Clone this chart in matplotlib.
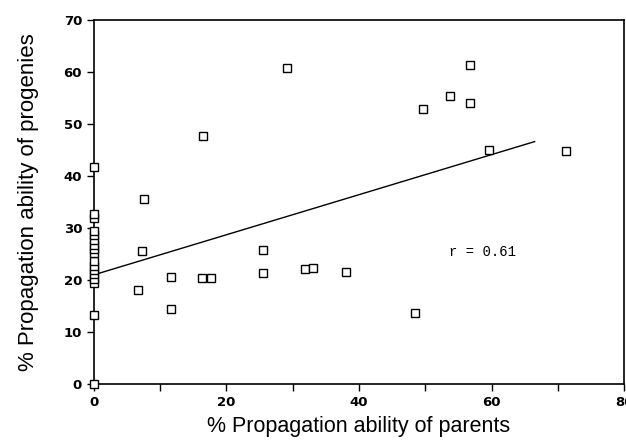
import numpy as np
import matplotlib.pyplot as plt

# Parents (x) vs progenies (y), % propagation ability
parents = [0, 0, 0, 0, 0, 0, 0, 0, 0, 0, 0, 0, 0, 0, 0, 0, 0,
           6.6, 7.3, 7.6, 11.6, 11.6, 16.3, 16.4, 17.7, 25.5, 25.5,
           29.2, 31.9, 33.1, 38.0, 48.4, 49.6, 53.7, 56.7, 56.7, 59.6, 71.3]
progenies = [0, 13.3, 19.4, 20.2, 21.1, 22.0, 22.7, 23.6, 25.2, 25.9,
             26.7, 27.6, 28.6, 29.5, 31.9, 32.6, 41.7,
             18.0, 25.6, 35.6, 20.6, 14.4, 20.3, 47.6, 20.3, 25.8, 21.4,
             60.8, 22.1, 22.4, 21.6, 13.6, 52.9, 55.4, 61.3, 54.0, 45.0, 44.8]

# regression line as drawn in the figure
fit_x = [0, 66.5]
fit_y = [21.0, 46.6]

fig = plt.figure(figsize=(6.26, 4.4), dpi=100)
ax = fig.add_axes([0.150, 0.127, 0.847, 0.828])

ax.plot(fit_x, fit_y, color='black', linewidth=1.0)
ax.plot(parents, progenies, linestyle='none', marker='s', markersize=5.5,
        markerfacecolor='white', markeredgecolor='black', markeredgewidth=1.0,
        clip_on=False, zorder=3)

ax.text(53.6, 25.3, 'r = 0.61', family='Liberation Mono', fontsize=10,
        va='center', ha='left')

ax.set_xlim(0, 80)
ax.set_ylim(0, 70)
ax.set_xticks([0, 20, 40, 60, 80])
ax.set_xticks([10, 30, 50, 70], minor=True)
ax.set_yticks(np.arange(0, 71, 10))

for s in ax.spines.values():
    s.set_linewidth(1.2)

ax.tick_params(axis='both', which='major', direction='out', length=5, width=1.0,
               labelsize=9.5)
ax.tick_params(axis='x', which='minor', direction='out', length=5, width=1.0)
for lab in ax.get_xticklabels() + ax.get_yticklabels():
    lab.set_fontweight('bold')

ax.set_xlabel('% Propagation ability of parents', family='Liberation Sans',
              fontsize=15.5, labelpad=5)
ax.set_ylabel('% Propagation ability of progenies', family='Liberation Sans',
              fontsize=16, labelpad=18)

fig.savefig('out.png', dpi=100)
